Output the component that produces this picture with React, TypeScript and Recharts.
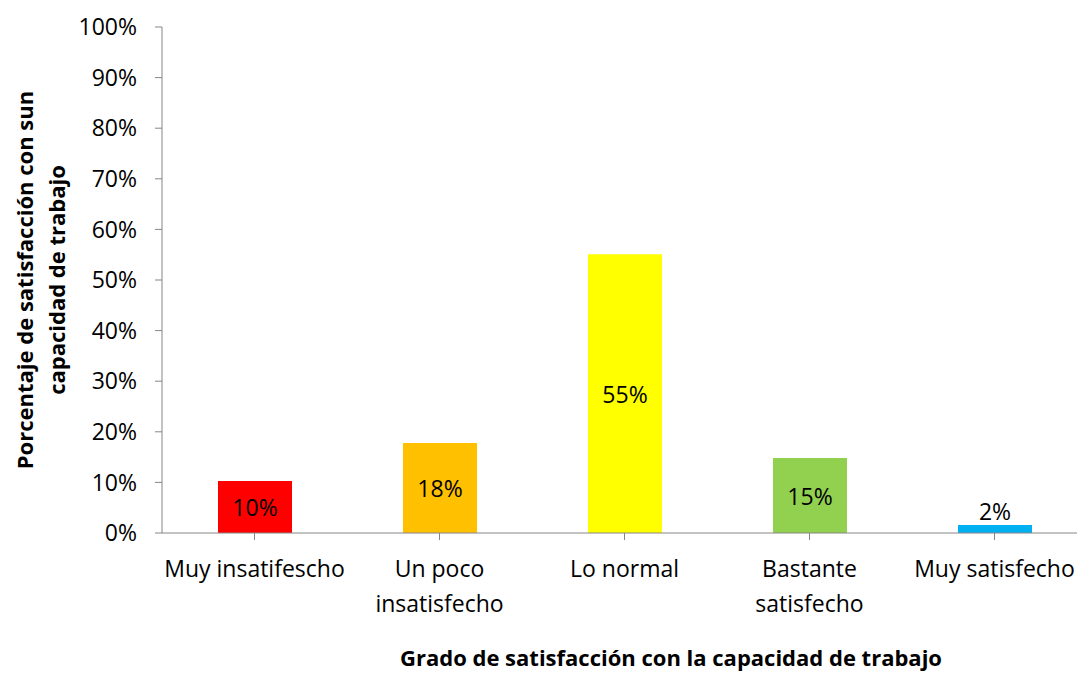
import { BarChart, Bar, XAxis, YAxis, Cell, LabelList } from 'recharts'

const categories = ['Muy insatifescho', 'Un poco\ninsatisfecho', 'Lo normal', 'Bastante\nsatisfecho', 'Muy satisfecho']
const values = [0.103, 0.178, 0.551, 0.148, 0.016]
const labels = ['10%', '18%', '55%', '15%', '2%']
const colors = ['#ff0000', '#ffc000', '#ffff00', '#92d050', '#00b0f0']
const yTicks = [0, 0.1, 0.2, 0.3, 0.4, 0.5, 0.6, 0.7, 0.8, 0.9, 1]

const FONT = '"Open Sans", Lato, sans-serif'
const AXIS = '#868686'

const data = categories.map((name, i) => ({ name, value: values[i], label: labels[i] }))

function XTick(props: any) {
  const { x, y, payload } = props
  const lines = String(payload.value).split('\n')
  return (
    <text x={x} y={y + 35} textAnchor="middle" fill="#000" fontSize={23} fontFamily={FONT}>
      {lines.map((l, i) => (
        <tspan key={i} x={x} dy={i === 0 ? 0 : 35}>{l}</tspan>
      ))}
    </text>
  )
}

function BarLabel(props: any) {
  const { x, y, width, height, value } = props
  const small = height < 25
  const cy = small ? y - 14 : y + height / 2
  return (
    <text x={x + width / 2} y={cy} textAnchor="middle" dominantBaseline="central" fontSize={23} fontFamily={FONT} fill="#000">
      {value}
    </text>
  )
}

export default function App() {
  return (
    <div style={{ position: 'absolute', left: 0, top: 0, width: 1077, height: 673, overflow: 'hidden', background: '#fff' }}>
      <BarChart width={1100} height={673} data={data} margin={{ top: 27, right: 13, bottom: 40, left: 82 }}>
        <XAxis
          dataKey="name"
          interval={0}
          height={100}
          stroke={AXIS}
          tickLine={{ stroke: AXIS }}
          tickSize={7}
          tick={<XTick />}
        />
        <YAxis
          width={80}
          domain={[0, 1]}
          ticks={yTicks}
          tickFormatter={(v: number) => `${Math.round(v * 100)}%`}
          stroke={AXIS}
          tickSize={7}
          tickMargin={18}
          tick={{ fontSize: 23, fontFamily: FONT, fill: '#000' }}
        />
        <Bar dataKey="value" barSize={74} isAnimationActive={false}>
          {data.map((_, i) => (
            <Cell key={i} fill={colors[i]} />
          ))}
          <LabelList dataKey="label" content={<BarLabel />} />
        </Bar>
        <text x={671} y={666} textAnchor="middle" fontSize={22} fontWeight="bold" fontFamily={FONT} fill="#000">
          Grado de satisfacción con la capacidad de trabajo
        </text>
        <text transform="translate(33, 280) rotate(-90)" textAnchor="middle" fontSize={22} fontWeight="bold" fontFamily={FONT} fill="#000">
          <tspan x={0} y={0}>Porcentaje de satisfacción con sun</tspan>
          <tspan x={0} y={32}>capacidad de trabajo</tspan>
        </text>
      </BarChart>
    </div>
  )
}
